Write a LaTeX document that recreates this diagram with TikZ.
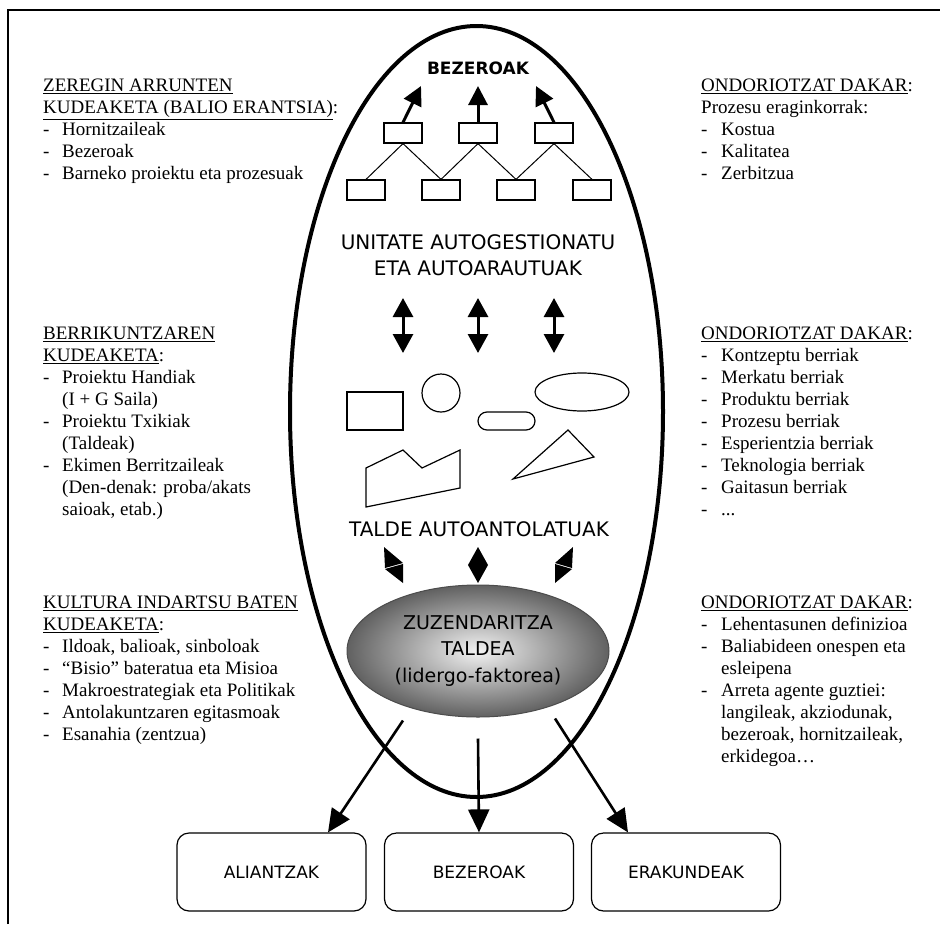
\documentclass[tikz,border=0pt]{standalone}
\usepackage{fontspec}
\setmainfont{Liberation Serif}
\newfontfamily\komikfont{DejaVu Sans}
\usetikzlibrary{arrows.meta, shapes.geometric}
\newcommand\goiburu[1]{\multicolumn{2}{@{}l@{}}{#1}}

\begin{document}
\begin{tikzpicture}[x=1pt, y=-1pt,
    kutxa/.style={draw, line width=1.2pt, minimum width=38pt, minimum height=20pt, inner sep=0pt},
    amaiera/.style={draw, line width=1.2pt, rounded corners=12pt, minimum width=189pt, minimum height=78pt, font=\komikfont\fontsize{17}{20}\selectfont},
    komik/.style={font=\komikfont\fontsize{20}{26}\selectfont, align=center, inner sep=0pt},
    zerrenda/.style={anchor=north west, inner sep=0pt, font=\fontsize{19}{22}\selectfont},
    mehe/.style={line width=1.2pt},
    gezia/.style={line width=3pt, -{Triangle[length=19pt, width=19pt]}},
    geziabi/.style={line width=3pt, {Triangle[length=19pt, width=20pt]}-{Triangle[length=19pt, width=20pt]}},
    geziabehe/.style={line width=2.6pt, -{Triangle[length=23pt, width=21pt]}}]
    \useasboundingbox (0,0) rectangle (940,924);
    \draw[line width=1.5pt] (8,924) -- (8,10) -- (940,10);

    \draw[line width=4pt] (476.5,411.5) ellipse[x radius=186.5, y radius=385.5];

    % testu zutabeak
    \node[zerrenda] (zeregin) at (43,76) {\begin{tabular}{@{}p{19pt}@{}l@{}}
      \goiburu{\underline{ZEREGIN ARRUNTEN}}\\
      \goiburu{\underline{KUDEAKETA (BALIO ERANTSIA)}:}\\
      - & Hornitzaileak\\
      - & Bezeroak\\
      - & Barneko proiektu eta prozesuak
    \end{tabular}};
    \node[zerrenda] (berrikuntza) at (43,324) {\begin{tabular}{@{}p{19pt}@{}l@{}}
      \goiburu{\underline{BERRIKUNTZAREN}}\\
      \goiburu{\underline{KUDEAKETA}:}\\
      - & Proiektu Handiak\\
        & (I + G Saila)\\
      - & Proiektu Txikiak\\
        & (Taldeak)\\
      - & Ekimen Berritzaileak\\
        & (Den-denak: proba/akats\\
        & saioak, etab.)
    \end{tabular}};
    \node[zerrenda] (kultura) at (43,593) {\begin{tabular}{@{}p{19pt}@{}l@{}}
      \goiburu{\underline{KULTURA INDARTSU BATEN}}\\
      \goiburu{\underline{KUDEAKETA}:}\\
      - & Ildoak, balioak, sinboloak\\
      - & “Bisio” bateratua eta Misioa\\
      - & Makroestrategiak eta Politikak\\
      - & Antolakuntzaren egitasmoak\\
      - & Esanahia (zentzua)
    \end{tabular}};
    \node[zerrenda] (ondorio1) at (701,76) {\begin{tabular}{@{}p{20pt}@{}l@{}}
      \goiburu{\underline{ONDORIOTZAT DAKAR}:}\\
      \goiburu{Prozesu eraginkorrak:}\\
      - & Kostua\\
      - & Kalitatea\\
      - & Zerbitzua
    \end{tabular}};
    \node[zerrenda] (ondorio2) at (701,324) {\begin{tabular}{@{}p{20pt}@{}l@{}}
      \goiburu{\underline{ONDORIOTZAT DAKAR}:}\\
      - & Kontzeptu berriak\\
      - & Merkatu berriak\\
      - & Produktu berriak\\
      - & Prozesu berriak\\
      - & Esperientzia berriak\\
      - & Teknologia berriak\\
      - & Gaitasun berriak\\
      - & ...
    \end{tabular}};
    \node[zerrenda] (ondorio3) at (701,593) {\begin{tabular}{@{}p{20pt}@{}l@{}}
      \goiburu{\underline{ONDORIOTZAT DAKAR}:}\\
      - & Lehentasunen definizioa\\
      - & Baliabideen onespen eta\\
        & esleipena\\
      - & Arreta agente guztiei:\\
        & langileak, akziodunak,\\
        & bezeroak, hornitzaileak,\\
        & erkidegoa…
    \end{tabular}};

    % elipse barrukoa
    \node[komik, font=\komikfont\bfseries\fontsize{17}{20}\selectfont] (bezgoi) at (478,68) {BEZEROAK};
    \node[kutxa] (t1) at (403,133) {};
    \node[kutxa] (t2) at (478,133) {};
    \node[kutxa] (t3) at (554,133) {};
    \node[kutxa] (b1) at (366,190) {};
    \node[kutxa] (b2) at (441,190) {};
    \node[kutxa] (b3) at (516,190) {};
    \node[kutxa] (b4) at (592,190) {};
    \draw[line width=1pt] (b1.north) -- (t1.south) -- (b2.north) -- (t2.south) -- (b3.north) -- (t3.south) -- (b4.north);
    \coordinate (g1) at (421,86);
    \coordinate (g2) at (478,86);
    \coordinate (g3) at (536,86);
    \draw[gezia] (t1.north) -- (g1);
    \draw[gezia] (t2.north) -- (g2);
    \draw[gezia] (t3.north) -- (g3);

    \node[komik] (unitate) at (478,255) {UNITATE AUTOGESTIONATU\\ETA AUTOARAUTUAK};
    \foreach \x in {403,478,554} {
      \draw[geziabi] (\x,298) -- (\x,353);
    }

    \draw[mehe] (347,392) rectangle (403,430);
    \draw[mehe] (441,393) circle[radius=19];
    \draw[mehe] (582,392) ellipse[x radius=47, y radius=19];
    \draw[mehe, rounded corners=9pt] (478,412) rectangle (535,430);
    \draw[mehe] (366,468) -- (403,450) -- (422,468) -- (460,450) -- (460,488) -- (366,507) -- cycle;
    \draw[mehe] (513,479) -- (568,430) -- (594,457) -- cycle;

    \node[komik] (talde) at (479,529) {TALDE AUTOANTOLATUAK};
    \fill (384,547) -- (403,563) -- (385,568) -- cycle;
    \fill (385,569) -- (403,564) -- (403,583) -- cycle;
    \fill (478,547) -- (488,565) -- (478,583) -- (468,565) -- cycle;
    \fill (573,547) -- (555,563) -- (572,568) -- cycle;
    \fill (572,569) -- (555,564) -- (555,583) -- cycle;

    \node[ellipse, draw=black!70, line width=1pt, inner sep=0pt, minimum width=262pt, minimum height=132pt,
      inner color=black!5, outer color=black!62, komik, font=\komikfont\fontsize{19}{26.5}\selectfont] (zuzen) at (478,651)
      {ZUZENDARITZA\\TALDEA\\(lidergo-faktorea)};

    % kanpoko kutxak
    \node[amaiera] (aliantzak) at (271.5,872) {ALIANTZAK};
    \node[amaiera] (bezeroak) at (479,872) {BEZEROAK};
    \node[amaiera] (erakundeak) at (686,872) {ERAKUNDEAK};
    \draw[geziabehe] ([xshift=-75pt, yshift=-3pt]zuzen.south) -- ([xshift=56.5pt]aliantzak.north);
    \draw[geziabehe] ([yshift=-21pt]zuzen.south) -- (bezeroak.north);
    \draw[geziabehe] ([xshift=77pt, yshift=-1pt]zuzen.south) -- ([xshift=-58pt]erakundeak.north);
\end{tikzpicture}
\end{document}
